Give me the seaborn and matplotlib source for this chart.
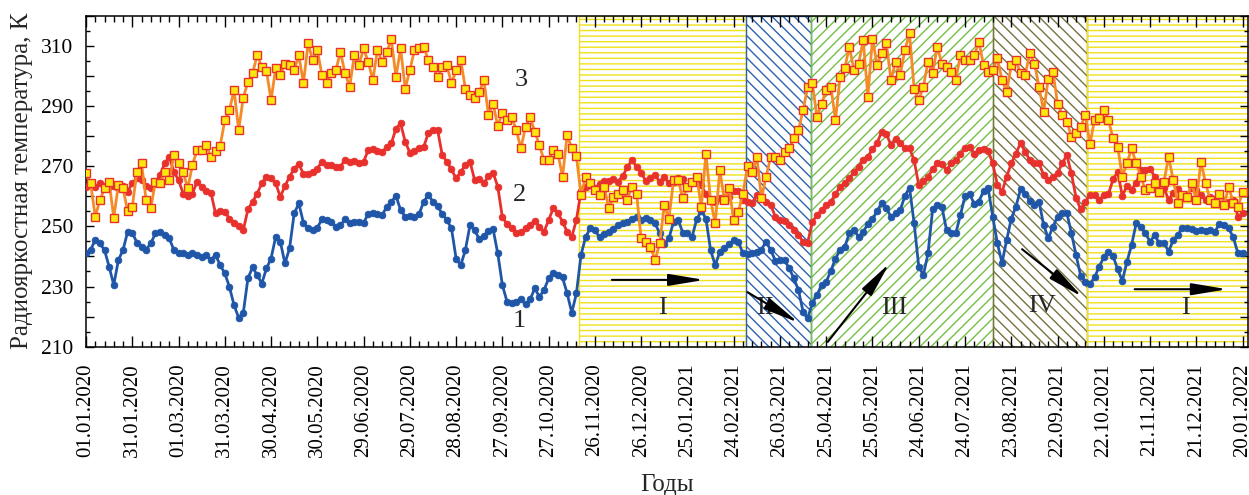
import numpy as np
import pandas as pd
import matplotlib
matplotlib.use("Agg")
import matplotlib.pyplot as plt
import matplotlib.dates as mdates
from matplotlib.ticker import FixedLocator, MultipleLocator, FuncFormatter
import seaborn as sns

# ---- data: brightness temperature, K, sampled every 3 days from 01.01.2020 ----
start_date = "2020-01-01"
step_days = 3

t1 = [
    241.0, 242.3, 245.4, 244.3, 242.1, 236.6, 230.5, 238.8, 242.1, 248.2,
    247.9, 244.6, 243.2, 242.3, 244.3, 247.7, 248.2, 247.1, 246.0, 242.1,
    241.3, 241.0, 240.5, 241.0, 240.5, 239.9, 240.5, 238.8, 240.5, 237.1,
    234.4, 229.9, 223.8, 219.6, 221.3, 232.7, 236.4, 233.8, 231.0, 236.0,
    239.3, 246.5, 244.9,
    237.7, 242.7, 254.3, 257.6, 251.2, 249.3, 248.8, 249.6, 252.3, 252.1,
    251.5, 249.9, 250.4, 252.3, 251.0, 251.5, 251.5, 251.2, 254.1, 254.3,
    254.0, 253.7, 256.5, 258.2, 260.1, 255.4, 253.2, 253.4, 253.2, 254.1,
    258.2, 260.4, 258.2, 256.7, 254.1, 252.1, 249.3, 239.3, 237.1, 242.1,
    250.4, 248.8,
    245.7, 246.8, 248.5, 249.0, 241.0, 230.5, 225.0, 224.6, 225.0, 225.7,
    224.1, 225.7, 229.4, 226.6, 228.8, 232.7, 234.6, 233.8, 233.0, 227.7,
    221.3, 227.7, 240.5, 246.5, 249.3, 248.8, 246.3, 247.4, 248.2, 249.0,
    250.4, 251.0, 251.5, 252.3, 253.0, 252.1, 252.7, 252.1, 251.0, 247.7,
    244.1, 246.0,
    251.5, 252.1, 247.9, 247.7, 246.5, 252.3, 255.1, 252.6, 242.1, 237.1,
    241.5, 242.7, 244.1, 245.4, 244.9, 241.0, 240.8, 241.2, 241.5, 242.3,
    244.9, 242.1, 238.6, 238.8, 238.8, 236.0, 232.7, 228.8, 221.6, 219.6,
    224.4, 227.2, 230.5, 231.6, 235.2, 239.3, 242.1, 243.2, 247.7, 248.8,
    246.5, 248.2, 250.8,
    252.3, 255.1, 257.8, 256.0, 253.2, 254.3, 255.4, 260.1, 262.9, 251.0,
    236.6, 233.8, 241.0, 255.6, 257.1, 256.5, 248.8, 247.7, 247.7, 253.7,
    260.1, 260.8, 257.4, 258.2, 261.8, 262.6, 253.2, 244.3, 237.9, 245.4,
    252.6, 256.5, 262.3, 260.9, 258.5, 257.1, 258.2, 250.4, 246.0, 249.9,
    253.2, 254.5, 254.5,
    247.7, 240.5, 233.5, 231.6, 230.8, 233.0, 236.6, 239.7, 241.6, 240.1,
    235.7, 231.9, 238.2, 243.8, 251.0, 249.9, 247.7, 244.9, 247.1, 244.3,
    244.6, 241.6, 245.4, 247.1, 249.6, 249.3, 249.0, 248.5, 248.8, 248.4,
    248.8, 248.2, 250.8, 250.4, 249.3, 246.3, 241.0, 241.2,
]

t2 = [
    263.2, 263.7, 263.2, 264.3, 263.4, 263.2, 263.5, 262.6, 263.5, 261.5,
    264.3, 265.9, 265.4, 263.5, 262.6, 264.8, 267.0, 270.9, 273.1, 268.1,
    265.4, 260.9, 260.1, 260.9, 264.8, 263.2, 261.8, 261.2, 254.3, 255.2,
    254.8, 252.6, 251.2, 250.2, 248.8, 255.6, 258.2, 260.9, 264.3, 266.5,
    265.9, 264.3, 259.8,
    263.4, 266.5, 269.2, 270.7, 267.4, 267.4, 268.1, 269.2, 271.5, 270.4,
    270.4, 269.8, 269.8, 272.2, 271.5, 271.8, 270.9, 271.5, 275.3, 275.8,
    275.1, 274.8, 276.2, 277.6, 282.5, 284.2, 278.1, 274.5, 275.0, 275.9,
    276.4, 281.1, 282.0, 282.0, 273.7, 271.5, 268.9, 265.9, 268.1, 270.4,
    271.5, 265.4,
    265.6, 264.3, 266.7, 267.8, 263.2, 253.0, 250.8, 249.3, 247.7, 248.2,
    249.3, 250.4, 251.9, 249.9, 248.2, 252.1, 256.0, 254.5, 251.5, 248.2,
    246.5, 252.1, 261.8, 263.2, 263.7, 262.6, 264.0, 265.1, 265.1, 265.6,
    264.9, 266.7, 269.6, 272.0, 269.8, 267.8, 265.1, 265.9, 267.0, 264.9,
    266.5, 264.3,
    264.8, 265.9, 265.6, 262.6, 264.3, 265.9, 263.7, 260.7, 258.9, 258.2,
    259.3, 259.6, 259.8, 261.8, 261.8, 258.7, 258.2, 257.8, 260.4, 259.3,
    258.2, 257.1, 253.2, 252.1, 251.9, 250.4, 248.8, 247.1, 244.9, 244.6,
    251.5, 253.7, 255.4, 257.1, 258.2, 260.7, 263.2, 264.3, 265.9, 268.1,
    269.8, 272.0, 273.1,
    275.6, 277.8, 281.4, 280.7, 277.0, 278.9, 277.6, 275.9, 275.9, 272.0,
    263.7, 265.1, 266.5, 268.9, 270.9, 270.7, 268.7, 270.9, 272.0, 274.0,
    275.9, 276.4, 274.2, 275.3, 275.6, 275.1, 270.9, 263.7, 261.5, 266.5,
    270.9, 274.2, 277.6, 274.8, 272.0, 270.9, 270.9, 267.0, 265.4, 266.5,
    267.6, 270.9, 273.7,
    267.6, 259.5, 255.6, 258.2, 260.4, 260.4, 258.7, 260.4, 260.7, 265.6,
    268.1, 260.1, 263.5, 262.2, 264.3, 268.7, 268.7, 269.2, 266.5, 264.3,
    262.6, 258.9, 261.0, 262.3, 260.1, 260.4, 262.6, 262.0, 260.4, 258.7,
    259.6, 258.2, 260.7, 258.5, 258.2, 258.9, 253.2, 254.3,
]

t3 = [
    267.8, 264.3, 253.2, 258.7, 262.6, 264.8, 252.9, 263.7, 262.6, 255.1,
    256.5, 268.1, 270.9, 258.7, 256.0, 264.9, 264.3, 268.1, 265.4, 273.7,
    270.9, 268.1, 262.6, 270.4, 275.3, 275.3, 277.0, 273.1, 275.1, 276.7,
    285.3, 288.6, 295.3, 282.0, 292.8, 298.0, 300.8, 306.9, 303.0, 301.7,
    292.0, 302.5, 300.3,
    304.1, 303.6, 301.9, 306.9, 297.5, 310.8, 305.2, 308.6, 300.3, 297.5,
    301.0, 301.9, 308.0, 300.8, 296.4, 306.9, 303.6, 309.1, 304.7, 298.6,
    308.6, 304.7, 308.0, 312.1, 299.7, 309.1, 295.8, 301.9, 308.6, 309.2,
    309.7, 305.2, 303.0, 299.7, 303.0, 303.6, 297.5, 301.9, 305.2, 295.8,
    293.6, 292.7,
    294.7, 298.6, 287.0, 290.8, 283.3, 287.7, 285.3, 286.4, 282.0, 275.9,
    283.1, 286.4, 281.4, 277.0, 272.0, 272.2, 275.3, 274.2, 266.5, 280.3,
    275.9, 273.3, 260.4, 266.5, 264.3, 262.0, 260.4, 263.2, 256.0, 259.8,
    260.9, 262.0, 258.7, 263.2, 260.9, 246.0, 244.9, 243.2, 238.8, 244.3,
    257.1, 252.6,
    265.4, 265.4, 259.3, 263.2, 264.8, 266.5, 256.5, 274.2, 258.7, 251.0,
    268.7, 258.7, 262.6, 252.1, 254.8, 260.9, 270.0, 268.1, 273.1, 259.3,
    266.5, 273.1, 273.1, 272.0, 274.8, 275.9, 279.2, 282.0, 288.6, 296.4,
    297.5, 286.4, 290.8, 295.3, 296.4, 285.3, 299.7, 302.5, 309.7, 301.9,
    304.1, 311.9, 293.1,
    312.4, 303.6, 307.5, 310.8, 298.6, 304.7, 300.3, 308.6, 314.1, 295.8,
    292.0, 296.4, 304.7, 300.8, 309.7, 304.1, 303.0, 301.4, 298.6, 306.9,
    305.2, 305.2, 306.9, 311.3, 303.6, 301.4, 301.9, 305.8, 298.6, 294.7,
    303.6, 305.2, 300.8, 300.3, 307.5, 304.1, 296.4, 288.1, 299.1, 301.4,
    290.8, 287.0, 284.8,
    279.8, 280.9, 283.1, 287.0, 277.4, 285.3, 285.9, 288.8, 285.3, 279.2,
    276.4, 266.5, 270.9, 275.9, 270.9, 266.5, 262.0, 262.6, 264.3, 261.5,
    264.8, 273.1, 265.4, 257.8, 260.4, 259.8, 264.3, 258.7, 271.5, 264.3,
    258.7, 257.6, 260.9, 257.1, 263.2, 257.6, 256.5, 261.5,
]

# seasonal periods and their borders
period_edges = ["2020-11-16", "2021-03-04", "2021-04-15", "2021-08-11",
                "2021-10-11", "2022-01-24"]
period_names = ["I", "II", "III", "IV", "I"]
series_names = ["1", "2", "3"]

# ---- style ----
sns.set_theme(style="ticks")
plt.rcParams["font.family"] = ["Liberation Serif", "DejaVu Serif"]
plt.rcParams["hatch.linewidth"] = 1.0
plt.rcParams["axes.linewidth"] = 1.1

BLUE = "#1f56a8"
RED = "#e8302c"
ORANGE = "#f58b26"
YELLOW_MK = "#fbe70e"

dates = pd.date_range(start_date, periods=len(t1), freq=f"{step_days}D")
df = pd.DataFrame({"date": dates, "1": t1, "2": t2, "3": t3})

fig = plt.figure(figsize=(12.49, 4.95), dpi=100)
ax = fig.add_axes([86 / 1249, 1 - 346.7 / 495, 1162 / 1249, 331 / 495])

# hatched period bands
band_styles = [
    dict(edgecolor="#f0e11a", hatch="---"),
    dict(edgecolor="#2c62b0", hatch="\\\\\\"),
    dict(edgecolor="#76bf45", hatch="///"),
    dict(edgecolor="#77733f", hatch="\\\\\\"),
    dict(edgecolor="#f0e11a", hatch="---"),
]
for a, b, st in zip(period_edges[:-1], period_edges[1:], band_styles):
    ax.axvspan(pd.Timestamp(a), pd.Timestamp(b), facecolor="none",
               linewidth=1.0, zorder=0, **st)

# the three temperature series
sns.lineplot(data=df, x="date", y="1", ax=ax, color=BLUE, lw=2.0,
             marker="o", markersize=4.8, mfc=BLUE, mec=BLUE, mew=0.6,
             estimator=None, zorder=3)
sns.lineplot(data=df, x="date", y="2", ax=ax, color=RED, lw=2.0,
             marker="o", markersize=4.8, mfc=RED, mec=RED, mew=0.6,
             estimator=None, zorder=4)
sns.lineplot(data=df, x="date", y="3", ax=ax, color=ORANGE, lw=2.0,
             marker="s", markersize=5.2, mfc=YELLOW_MK, mec=RED, mew=1.0,
             estimator=None, zorder=5)


def day(n):
    return pd.Timestamp(start_date) + pd.Timedelta(days=n)


# series numbers
for name, (d, v) in zip(series_names, [(281, 218.5), (281, 260.4), (282, 298.6)]):
    ax.text(day(d), v, name, fontsize=19, ha="center", va="center", zorder=6)

# period labels and trend arrows
label_pos = [(374, 223), (440, 223), (524, 223), (620, 223.5), (713, 223)]
for name, (d, v) in zip(period_names, label_pos):
    ax.text(day(d), v, name, fontsize=19, ha="center", va="center", zorder=6)

arrows = [((341, 232.2), (401, 232.2)),
          ((429, 228.1), (462, 218.0)),
          ((481, 211.6), (521, 237.7)),
          ((607, 242.4), (646, 226.6)),
          ((680, 229.1), (740, 229.1))]
for (d0, v0), (d1, v1) in arrows:
    ax.annotate("", xy=(day(d1), v1), xytext=(day(d0), v0),
                arrowprops=dict(arrowstyle="-|>,head_length=1.2,head_width=0.2",
                                color="black", lw=1.5, mutation_scale=18,
                                shrinkA=0, shrinkB=0),
                zorder=7)

# axes, ticks
ax.set_xlim(pd.Timestamp(start_date), day(753.5))
ax.set_ylim(210, 320)

major_dates = pd.date_range(start_date, "2022-01-20", freq="30D")
minor_dates = pd.date_range(start_date, "2022-01-24", freq="6D")
ax.xaxis.set_major_locator(FixedLocator(mdates.date2num(major_dates)))
ax.xaxis.set_minor_locator(FixedLocator(mdates.date2num(minor_dates)))
ax.xaxis.set_major_formatter(mdates.DateFormatter("%d.%m.%Y"))

ax.yaxis.set_major_locator(MultipleLocator(10))
ax.yaxis.set_minor_locator(MultipleLocator(5))
ax.yaxis.set_major_formatter(FuncFormatter(lambda v, p: f"{v:.0f}" if int(round(v)) % 20 == 10 else ""))

ax.tick_params(axis="both", which="both", direction="in", top=True, right=True,
               colors="black", width=1.0)
ax.tick_params(axis="x", which="major", length=8, labelsize=15, pad=12,
               labelrotation=90)
ax.tick_params(axis="x", which="minor", length=4)
ax.tick_params(axis="y", which="major", length=6, labelsize=15.5, pad=9)
ax.tick_params(axis="y", which="minor", length=3)

for s in ax.spines.values():
    s.set_color("black")
    s.set_linewidth(1.1)

ax.set_xlabel("Годы", fontsize=18, labelpad=12)
ax.set_ylabel("Радиояркостная температура, К", fontsize=18, labelpad=6)

fig.savefig("out.png", dpi=100)
